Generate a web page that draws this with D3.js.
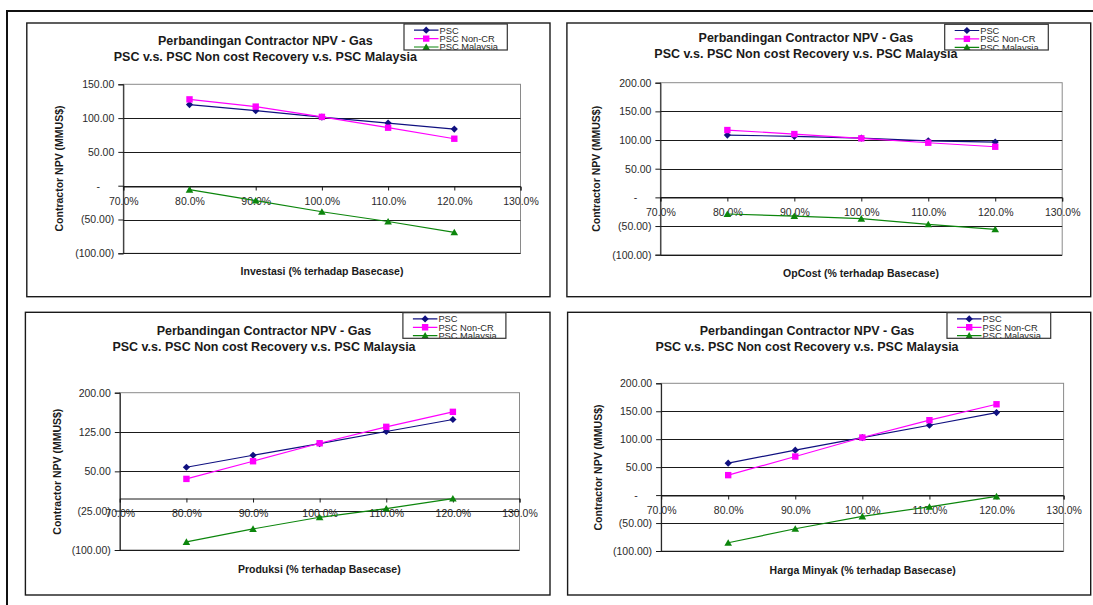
<!DOCTYPE html>
<html>
<head>
<meta charset="utf-8">
<script src="https://cdn.jsdelivr.net/npm/d3@7"></script>
<style>
  body { margin: 0; background: #fff; }
  svg { display: block; font-family: "Liberation Sans", Arial, sans-serif; }
</style>
</head>
<body>
<svg id="chart" width="1093" height="605"></svg>
<script>
// ---- data ----
const categories = [0.8, 0.9, 1.0, 1.1, 1.2];
const xTickValues = [0.7, 0.8, 0.9, 1.0, 1.1, 1.2, 1.3];
const seriesNames = ["PSC", "PSC Non-CR", "PSC Malaysia"];
const chartTitle = ["Perbandingan Contractor NPV - Gas", "PSC v.s. PSC Non cost Recovery v.s. PSC Malaysia"];
const yAxisTitle = "Contractor NPV (MMUS$)";
const xAxisTitles = [
  "Investasi (% terhadap Basecase)",
  "OpCost (% terhadap Basecase)",
  "Produksi (% terhadap Basecase)",
  "Harga Minyak (% terhadap Basecase)"
];

const investasiPSC      = [120.0, 111.0, 101.5, 92.7, 83.8];
const investasiNonCR    = [127.7, 117.0, 101.8, 85.8, 69.5];
const investasiMalaysia = [-5.9, -22.0, -38.5, -53.0, -69.0];

const opcostPSC      = [108.7, 106.4, 103.4, 98.7, 96.5];
const opcostNonCR    = [117.4, 110.4, 102.9, 95.3, 88.3];
const opcostMalaysia = [-29.0, -32.6, -37.2, -47.0, -55.8];

const produksiPSC      = [57.8, 80.7, 103.0, 126.0, 148.9];
const produksiNonCR    = [35.6, 69.3, 103.6, 134.9, 163.5];
const produksiMalaysia = [-84.6, -59.8, -37.6, -21.0, -1.9];

const hargaPSC      = [57.1, 80.4, 102.9, 125.0, 147.6];
const hargaNonCR    = [35.7, 69.0, 103.0, 134.0, 162.5];
const hargaMalaysia = [-85.2, -60.2, -38.1, -20.9, -2.4];

const yTicksInvestasi = [-100, -50, 0, 50, 100, 150];
const yTicksOpCost    = [-100, -50, 0, 50, 100, 150, 200];
const yTicksProduksi  = [-100, -25, 50, 125, 200];
const yTicksHarga     = [-100, -50, 0, 50, 100, 150, 200];

// ---- styling / layout ----
const colors = ["#101080", "#ff00ff", "#0c860c"];
const markers = ["diamond", "square", "triangle"];

const panels = [
  { series: [investasiPSC, investasiNonCR, investasiMalaysia], yTicks: yTicksInvestasi, xTitle: xAxisTitles[0],
    box: [26.8, 23, 550, 296.7], plot: [123.3, 84.3, 520.5, 253.3], title: [265.3, 40, 56.7],
    legend: [404, 24, 507.3, 50], xTitlePos: [322, 271.7], yTitlePos: [59.2, 168.5] },
  { series: [opcostPSC, opcostNonCR, opcostMalaysia], yTicks: yTicksOpCost, xTitle: xAxisTitles[1],
    box: [566.9, 23, 1090.7, 296.7], plot: [660.4, 82.7, 1062.2, 254.7], title: [805.9, 37.7, 53.3],
    legend: [944.7, 24.3, 1048.3, 50], xTitlePos: [861, 273.3], yTitlePos: [596.6, 168.8] },
  { series: [produksiPSC, produksiNonCR, produksiMalaysia], yTicks: yTicksProduksi, xTitle: xAxisTitles[2],
    box: [25.4, 312.3, 550, 595], plot: [119.8, 392.7, 519.5, 550], title: [264, 330, 346.7],
    legend: [402.9, 312.7, 505.9, 338.3], xTitlePos: [319.3, 569.3], yTitlePos: [56.8, 471.7] },
  { series: [hargaPSC, hargaNonCR, hargaMalaysia], yTicks: yTicksHarga, xTitle: xAxisTitles[3],
    box: [567.6, 312.3, 1090.7, 595], plot: [661.1, 383.3, 1063.6, 551], title: [807, 330, 346.7],
    legend: [947, 312.7, 1050.7, 338.3], xTitlePos: [862.7, 570], yTitlePos: [598.3, 467.5] }
];

const svg = d3.select("#chart");

function markerPath(type) {
  if (type === "diamond") return "M0,-3.6L3.6,0L0,3.6L-3.6,0Z";
  if (type === "square") return "M-3.2,-3.2H3.2V3.2H-3.2Z";
  return "M0,-3.6L3.8,3H-3.8Z";
}

const fmt2 = d3.format(".2f");
function yLabel(v) {
  if (v === 0) return "-";
  return v < 0 ? "(" + fmt2(-v) + ")" : fmt2(v);
}
const xFmt = d3.format(".1%");

// outer page frame
svg.append("path").attr("d", "M7,605V11H1093")
  .attr("fill", "none").attr("stroke", "#111").attr("stroke-width", 2);

panels.forEach((p, pi) => {
  const g = svg.append("g");
  const [bx0, by0, bx1, by1] = p.box;
  const [px0, py0, px1, py1] = p.plot;

  g.append("rect").attr("x", bx0).attr("y", by0).attr("width", bx1 - bx0).attr("height", by1 - by0)
    .attr("fill", "none").attr("stroke", "#1a1a1a").attr("stroke-width", 1.4);

  const x = d3.scaleLinear().domain([0.7, 1.3]).range([px0, px1]);
  const y = d3.scaleLinear().domain([d3.min(p.yTicks), d3.max(p.yTicks)]).range([py1, py0]);

  // plot area outline
  g.append("rect").attr("x", px0).attr("y", py0).attr("width", px1 - px0).attr("height", py1 - py0)
    .attr("fill", "none").attr("stroke", "#8a8a8a").attr("stroke-width", 1);

  // horizontal gridlines
  g.selectAll(".grid").data(p.yTicks.filter(v => v !== d3.max(p.yTicks))).enter().append("line")
    .attr("x1", px0).attr("x2", px1)
    .attr("y1", d => Math.round(y(d)) + 0.5).attr("y2", d => Math.round(y(d)) + 0.5)
    .attr("stroke", "#1a1a1a").attr("stroke-width", 1);

  // y axis
  const yAxis = d3.axisLeft(y).tickValues(p.yTicks).tickSize(5).tickFormat(yLabel);
  const ya = g.append("g").attr("transform", `translate(${px0},0)`).call(yAxis);
  ya.select(".domain").attr("stroke", "#1a1a1a");
  ya.selectAll(".tick line").attr("stroke", "#1a1a1a");
  ya.selectAll(".tick text")
    .attr("font-size", "10.5px").attr("fill", "#2a2a2a").attr("font-family", "Liberation Sans, Arial, sans-serif")
    .attr("x", d => d === 0 ? -25 : -9)
    .attr("text-anchor", d => d === 0 ? "middle" : "end");

  // x axis at zero
  const xAxis = d3.axisBottom(x).tickValues(xTickValues).tickSize(4).tickFormat(xFmt);
  const xa = g.append("g").attr("transform", `translate(0,${Math.round(y(0)) + 0.5})`).call(xAxis);
  xa.select(".domain").attr("stroke", "#1a1a1a");
  xa.selectAll(".tick line").attr("stroke", "#1a1a1a");
  xa.selectAll(".tick text")
    .attr("font-size", "10.5px").attr("fill", "#2a2a2a").attr("font-family", "Liberation Sans, Arial, sans-serif")
    .attr("y", 11).attr("dy", "0.71em");

  // series lines and markers
  p.series.forEach((vals, si) => {
    const pts = categories.map((c, i) => [x(c), y(vals[i])]);
    g.append("path").attr("d", d3.line()(pts))
      .attr("fill", "none").attr("stroke", colors[si]).attr("stroke-width", 1.2);
    g.selectAll(".m" + si).data(pts).enter().append("path")
      .attr("transform", d => `translate(${d[0]},${d[1]})`)
      .attr("d", markerPath(markers[si])).attr("fill", colors[si]);
  });

  // chart title
  chartTitle.forEach((t, i) => {
    g.append("text").attr("x", p.title[0]).attr("y", p.title[1 + i]).attr("dy", "0.36em")
      .attr("text-anchor", "middle").attr("font-size", "12.5px").attr("font-weight", "bold")
      .attr("fill", "#1a1a1a").text(t);
  });

  // axis titles
  g.append("text").attr("x", p.xTitlePos[0]).attr("y", p.xTitlePos[1]).attr("dy", "0.36em")
    .attr("text-anchor", "middle").attr("font-size", "10.5px").attr("font-weight", "bold")
    .attr("fill", "#1a1a1a").text(p.xTitle);
  g.append("text").attr("transform", `translate(${p.yTitlePos[0]},${p.yTitlePos[1]}) rotate(-90)`)
    .attr("dy", "0.36em").attr("text-anchor", "middle").attr("font-size", "10.5px").attr("font-weight", "bold")
    .attr("fill", "#1a1a1a").text(yAxisTitle);

  // legend (clipped by its frame)
  const [lx0, ly0, lx1, ly1] = p.legend;
  const clipId = "legclip" + pi;
  svg.append("clipPath").attr("id", clipId).append("rect")
    .attr("x", lx0).attr("y", ly0).attr("width", lx1 - lx0).attr("height", ly1 - ly0);
  const lg = g.append("g").attr("clip-path", `url(#${clipId})`);
  lg.append("rect").attr("x", lx0).attr("y", ly0).attr("width", lx1 - lx0).attr("height", ly1 - ly0)
    .attr("fill", "#fff");
  seriesNames.forEach((name, si) => {
    const cy = ly0 + 6.2 + si * 8.4;
    lg.append("line").attr("x1", lx0 + 10).attr("x2", lx0 + 34.5).attr("y1", cy).attr("y2", cy)
      .attr("stroke", colors[si]).attr("stroke-width", 1.2);
    lg.append("path").attr("transform", `translate(${lx0 + 22.2},${cy})`)
      .attr("d", markerPath(markers[si])).attr("fill", colors[si]);
    lg.append("text").attr("x", lx0 + 35.5).attr("y", cy).attr("dy", "0.36em")
      .attr("font-size", "9.3px").attr("fill", "#2a2a2a").text(name);
  });
  g.append("rect").attr("x", lx0).attr("y", ly0).attr("width", lx1 - lx0).attr("height", ly1 - ly0)
    .attr("fill", "none").attr("stroke", "#333").attr("stroke-width", 1.2);
});
</script>
</body>
</html>
